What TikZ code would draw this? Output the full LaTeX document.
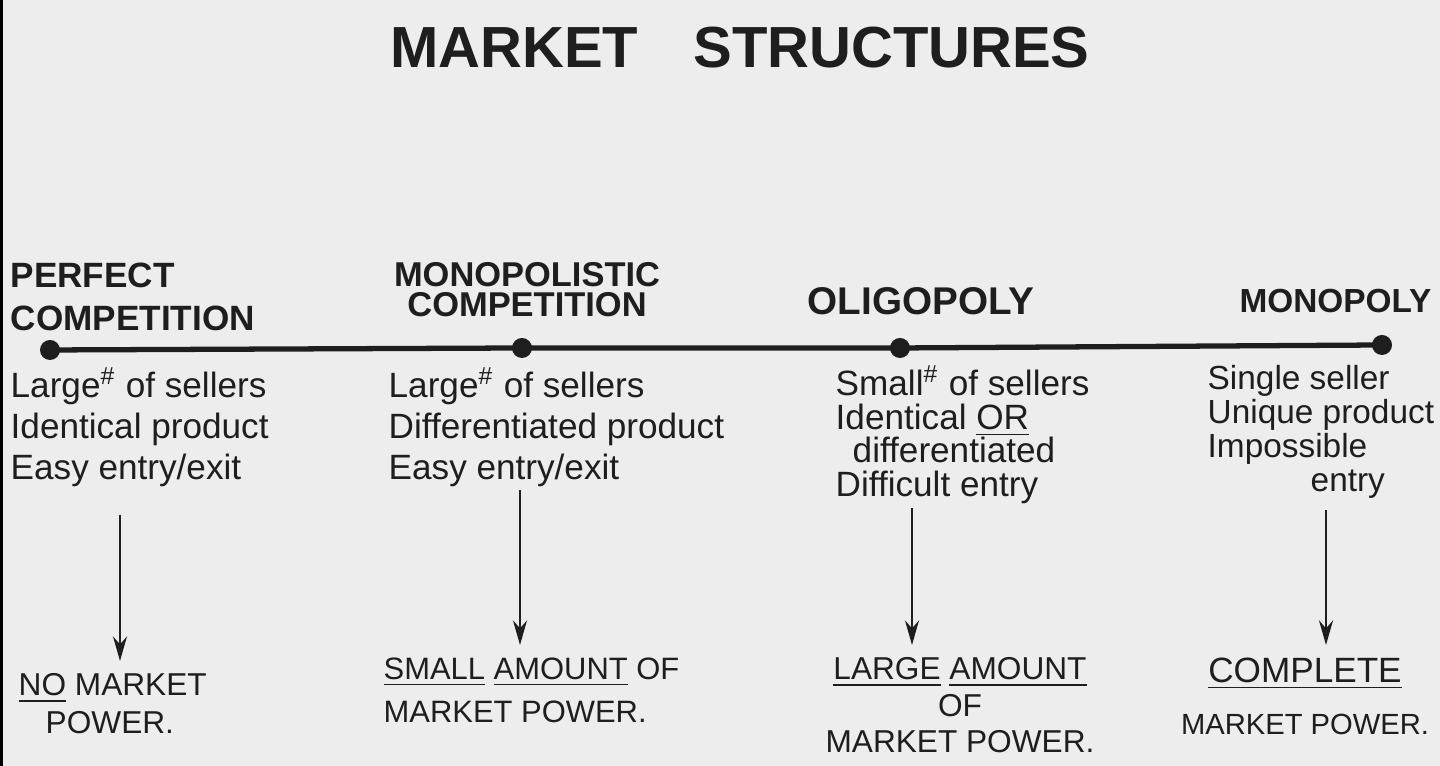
\documentclass[tikz,border=0pt]{standalone}
\usepackage{fontspec}
\setmainfont{Liberation Sans}
\usepackage{tikz}
\usetikzlibrary{positioning, arrows.meta}

\definecolor{paper}{HTML}{EDEDED}
\definecolor{ink}{HTML}{1E1E1E}

\tikzset{
    heading/.style={inner sep=0pt, text=ink, align=left, font=\bfseries\fontsize{10}{12.2}\selectfont},
    traits/.style={inner sep=0pt, text=ink, align=left, font=\fontsize{10}{11.7}\selectfont},
    power/.style={inner sep=0pt, text=ink, font=\fontsize{9}{11}\selectfont},
    marker/.style={circle, fill=ink, inner sep=0pt, minimum size=0.2cm},
    pointer/.style={-{Stealth[length=7pt,width=4pt]}, semithick, draw=ink, shorten >=0.12cm}
}

\begin{document}
\begin{tikzpicture}
        \useasboundingbox (0,0) rectangle (14.4,7.66);
        \fill[paper] (0,0) rectangle (14.4,7.66);
        \fill[black] (0,0) rectangle (0.03,7.66);

        \node[inner sep=0pt, text=ink, anchor=base, font=\bfseries\fontsize{16.5}{20}\selectfont] (title) at (7.40,6.98)
            {MARKET\hspace{0.55cm}STRUCTURES};

        % the scale of structures
        \node[marker] (d1) at (0.50,4.16) {};
        \node[marker] (d2) at (5.22,4.18) {};
        \node[marker] (d3) at (9.00,4.18) {};
        \node[marker] (d4) at (13.82,4.21) {};
        \draw[line width=1.5pt, draw=ink] (d1.center) -- (d2.center) -- (d3.center) -- (d4.center);

        \node[heading, anchor=north west] (h1) at (0.10,5.04) {PERFECT\\COMPETITION};
        \node[heading, anchor=north, align=center, font=\bfseries\fontsize{9.8}{8.5}\selectfont] (h2) at (5.27,5.04)
            {MONOPOLISTIC\\COMPETITION};
        \node[heading, anchor=base, font=\bfseries\fontsize{11}{13}\selectfont] (h3) at (9.21,4.51) {OLIGOPOLY};
        \node[heading, anchor=base east, font=\bfseries\fontsize{9.5}{11}\selectfont] (h4) at (14.32,4.53) {MONOPOLY};

        % what each structure looks like
        \node[traits, anchor=north west] (c1) at (0.10,3.99)
            {Large\textsuperscript{\#} of sellers\\Identical product\\Easy entry/exit};
        \node[traits, anchor=north west] (c2) at (3.88,3.99)
            {Large\textsuperscript{\#} of sellers\\Differentiated product\\Easy entry/exit};
        \node[traits, anchor=north west, font=\fontsize{10}{9.6}\selectfont] (c3) at (8.35,4.01)
            {Small\textsuperscript{\#} of sellers\\Identical \underline{OR}\\\hspace{0.17cm}differentiated\\Difficult entry};
        \node[traits, anchor=north west, font=\fontsize{9.5}{9.6}\selectfont] (c4) at (12.07,4.01)
            {Single seller\\Unique product\\Impossible\\\hspace{1.03cm}entry};

        % market power
        \node[power, anchor=north west, align=left, font=\fontsize{9}{10.8}\selectfont] (p1) at (0.18,0.93)
            {\underline{NO} MARKET\\\hspace{0.27cm}POWER.};
        \node[power, anchor=north west, align=left, font=\fontsize{8.8}{12.2}\selectfont] (p2) at (3.83,1.09)
            {\underline{SMALL} \underline{AMOUNT} OF\\MARKET POWER.};
        \node[power, anchor=north, align=center, font=\fontsize{9}{10.4}\selectfont] (p3) at (9.60,1.09)
            {\underline{LARGE} \underline{AMOUNT}\\OF\\MARKET POWER.};
        \node[power, anchor=north, align=center, font=\fontsize{10}{15}\selectfont] (p4) at (13.05,1.09)
            {\underline{COMPLETE}\\{\fontsize{8.3}{10}\selectfont MARKET POWER.}};

        \coordinate (t1) at (1.20,2.51);
        \coordinate (t2) at (5.20,2.76);
        \coordinate (t3) at (9.12,2.58);
        \coordinate (t4) at (13.26,2.56);
        \draw[pointer] (t1) -- (t1 |- p1.north);
        \draw[pointer] (t2) -- (t2 |- p2.north);
        \draw[pointer] (t3) -- (t3 |- p3.north);
        \draw[pointer] (t4) -- (t4 |- p4.north);
\end{tikzpicture}
\end{document}
